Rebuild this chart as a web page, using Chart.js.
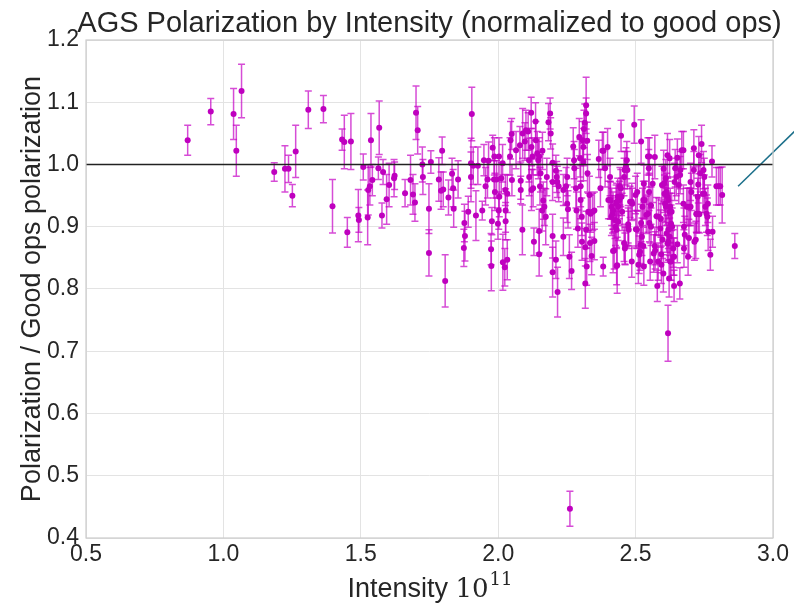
<!DOCTYPE html>
<html>
<head>
<meta charset="utf-8">
<script src="https://cdn.jsdelivr.net/npm/chart.js@4/dist/chart.umd.min.js"></script>
<style>
  html, body { margin: 0; padding: 0; background: #fff; }
</style>
</head>
<body>
<canvas id="polChart" width="794" height="603"></canvas>
<script>
// Beam intensity (units of 10^11)
const intensity = [
  0.870, 0.954, 1.037, 1.047, 1.066, 1.185, 1.224, 1.237, 1.251, 1.263,
  1.309, 1.364, 1.397, 1.432, 1.440, 1.451, 1.464, 1.491, 1.493, 1.509,
  1.525, 1.527, 1.533, 1.537, 1.542, 1.567, 1.564, 1.577, 1.581, 1.594,
  1.603, 1.621, 1.623, 1.661, 1.681, 1.690, 1.697, 1.701, 1.707, 1.724,
  1.726, 1.748, 1.748, 1.755, 1.784, 1.796, 1.792, 1.800, 1.807, 1.819,
  1.832, 1.836, 1.838, 1.854, 1.877, 1.879, 1.875, 1.891, 1.904, 1.901,
  1.901, 1.909, 1.919, 1.926, 1.948, 1.942, 1.954, 1.961, 1.965, 1.980,
  1.986, 1.985, 1.988, 1.994, 1.977, 1.974, 1.975, 1.999, 2.003, 2.004,
  2.002, 2.011, 2.016, 2.017, 2.024, 2.033, 2.027, 2.027, 2.026, 2.033,
  2.043, 2.045, 2.049, 2.050, 2.065, 2.079, 2.082, 2.082, 2.088, 2.089,
  2.097, 2.101, 2.109, 2.112, 2.113, 2.120, 2.121, 2.125, 2.121, 2.127,
  2.130, 2.136, 2.137, 2.142, 2.146, 2.149, 2.152, 2.149, 2.149, 2.154,
  2.161, 2.160, 2.164, 2.168, 2.173, 2.177, 2.183, 2.189, 2.191, 2.198,
  2.198, 2.198, 2.198, 2.210, 2.213, 2.215, 2.220, 2.210, 2.216, 2.237,
  2.237, 2.247, 2.251, 2.251, 2.254, 2.259, 2.261, 2.267, 2.273, 2.276,
  2.277, 2.283, 2.285, 2.290, 2.295, 2.298, 2.300, 2.300, 2.304, 2.305,
  2.307, 2.310, 2.310, 2.312, 2.315, 2.320, 2.320, 2.324, 2.325, 2.317,
  2.317, 2.320, 2.322, 2.328, 2.332, 2.334, 2.336, 2.340, 2.344, 2.350,
  2.350, 2.366, 2.372, 2.379, 2.382, 2.389, 2.398, 2.401, 2.383, 2.407,
  2.409, 2.413, 2.416, 2.418, 2.425, 2.427, 2.429, 2.433, 2.435, 2.437,
  2.441, 2.443, 2.447, 2.449, 2.451, 2.458, 2.458, 2.460, 2.461, 2.465,
  2.468, 2.470, 2.473, 2.475, 2.480, 2.486, 2.488, 2.495, 2.500, 2.501,
  2.506, 2.510, 2.513, 2.516, 2.518, 2.520, 2.520, 2.523, 2.525, 2.528,
  2.530, 2.533, 2.539, 2.545, 2.548, 2.549, 2.550, 2.550, 2.553, 2.556,
  2.562, 2.566, 2.570, 2.571, 2.576, 2.579, 2.582, 2.584, 2.590, 2.594,
  2.596, 2.598, 2.601, 2.602, 2.605, 2.607, 2.610, 2.613, 2.616, 2.617,
  2.618, 2.619, 2.622, 2.624, 2.626, 2.629, 2.631, 2.633, 2.637, 2.640,
  2.642, 2.644, 2.648, 2.652, 2.652, 2.657, 2.661, 2.663, 2.668, 2.674,
  2.674, 2.676, 2.676, 2.679, 2.686, 2.691, 2.694, 2.697, 2.700, 2.703,
  2.712, 2.712, 2.714, 2.719, 2.721, 2.722, 2.726, 2.728, 2.730, 2.732,
  2.735, 2.740, 2.745, 2.747, 2.750, 2.754, 2.758, 2.761, 2.763, 2.764,
  2.772, 2.778, 2.780, 2.794, 2.802, 2.808, 2.815, 2.861, 2.446, 2.407,
  2.486, 2.528, 2.431, 2.418, 2.545, 2.412, 2.437, 2.473, 2.431, 2.556,
  2.505, 2.462, 2.570, 2.422, 2.431, 2.530, 2.604, 2.613, 2.619, 2.610,
  2.624, 2.592, 2.629, 2.619, 2.624, 2.616, 2.637, 2.593, 2.626, 2.640,
  2.662, 2.691, 2.700, 2.728, 2.750
];

// Polarization / good ops polarization
const polRatio = [
  1.039, 1.085, 1.081, 1.022, 1.118, 0.988, 0.993, 0.993, 0.950, 1.021,
  1.088, 1.089, 0.933, 1.040, 1.036, 0.891, 1.037, 0.918, 0.911, 0.996,
  0.915, 0.959, 0.965, 1.039, 0.975, 1.059, 0.994, 0.918, 0.988, 0.944,
  0.967, 0.978, 0.982, 0.954, 0.975, 0.952, 0.939, 1.083, 1.055, 1.000,
  0.980, 0.929, 0.858, 1.004, 0.976, 1.022, 0.958, 0.960, 0.813, 0.947,
  0.985, 0.962, 0.929, 0.976, 0.906, 0.885, 0.866, 0.924, 1.081, 0.980,
  1.002, 0.998, 0.918, 0.998, 1.007, 0.926, 0.965, 0.976, 1.006, 1.027,
  1.013, 0.976, 0.956, 0.976, 0.909, 0.864, 0.837, 0.905, 1.013, 0.948,
  0.926, 0.978, 1.002, 0.843, 0.835, 0.847, 0.909, 0.926, 0.959, 0.953,
  1.013, 1.039, 1.049, 0.975, 1.023, 1.031, 0.974, 0.959, 0.895, 1.050,
  1.037, 1.055, 1.053, 1.007, 0.980, 1.083, 1.028, 1.013, 0.959, 0.962,
  0.876, 1.069, 1.039, 1.018, 1.007, 1.013, 0.965, 0.893, 0.856, 0.986,
  1.022, 0.926, 0.942, 0.932, 0.916, 0.980, 1.068, 1.082, 1.050, 1.003,
  0.972, 0.885, 0.827, 0.990, 0.980, 0.972, 0.965, 0.847, 0.795, 0.959,
  0.884, 0.965, 0.980, 0.937, 0.928, 0.852, 0.447, 0.829, 1.029, 1.007,
  0.994, 0.962, 0.926, 0.897, 1.044, 1.010, 0.965, 0.943, 0.916, 0.876,
  1.039, 1.004, 1.028, 1.057, 1.067, 1.095, 1.082, 1.038, 0.986, 0.867,
  0.809, 0.895, 0.836, 0.924, 0.951, 0.874, 0.921, 0.853, 0.924, 0.926,
  0.877, 1.009, 0.962, 1.022, 0.836, 0.994, 1.028, 0.943, 1.022, 0.980,
  0.942, 0.932, 0.920, 0.861, 0.911, 0.900, 0.937, 0.838, 0.948, 0.932,
  0.943, 0.965, 1.046, 0.948, 0.924, 0.874, 0.980, 0.991, 0.865, 0.997,
  1.007, 0.991, 0.904, 0.895, 0.940, 0.844, 0.937, 1.064, 0.951, 0.896,
  0.956, 0.839, 0.855, 0.860, 0.871, 1.037, 0.906, 0.884, 0.932, 0.869,
  0.969, 0.943, 0.919, 1.013, 0.994, 0.956, 1.013, 0.906, 0.844, 0.934,
  0.969, 0.857, 1.012, 0.862, 0.917, 0.805, 0.844, 0.916, 0.897, 0.839,
  0.967, 0.879, 0.825, 0.993, 0.953, 0.937, 0.978, 0.889, 1.015, 0.948,
  0.729, 0.876, 0.817, 1.010, 0.932, 0.844, 0.924, 0.900, 0.852, 0.805,
  0.972, 0.994, 0.980, 0.872, 1.011, 0.967, 0.809, 0.991, 1.023, 1.023,
  0.937, 0.900, 0.865, 0.887, 0.932, 0.852, 0.882, 0.932, 0.972, 0.956,
  1.026, 0.991, 0.876, 0.879, 0.921, 0.920, 0.948, 0.968, 1.015, 0.920,
  0.986, 1.033, 0.953, 0.991, 0.980, 0.932, 0.921, 0.916, 0.937, 0.892,
  0.855, 1.005, 0.892, 0.965, 0.965, 0.965, 0.951, 0.869, 0.962, 0.943,
  0.940, 0.943, 0.940, 0.926, 0.921, 0.916, 0.908, 0.900, 0.895, 0.900,
  0.895, 0.869, 0.869, 0.862, 0.837, 0.836, 0.970, 0.956, 0.943, 0.932,
  0.924, 0.913, 0.905, 0.895, 0.884, 0.873, 0.865, 0.856, 0.844, 0.852,
  0.983, 0.932, 0.932, 0.921, 0.953
];

// Error on the ratio (half length of each bar)
const polErr = [
  0.024, 0.021, 0.041, 0.041, 0.043, 0.015, 0.037, 0.022, 0.018, 0.042,
  0.030, 0.022, 0.043, 0.017, 0.043, 0.024, 0.045, 0.042, 0.020, 0.021,
  0.044, 0.040, 0.030, 0.043, 0.025, 0.043, 0.018, 0.020, 0.020, 0.040,
  0.035, 0.030, 0.022, 0.022, 0.040, 0.032, 0.030, 0.043, 0.038, 0.028,
  0.028, 0.040, 0.037, 0.018, 0.035, 0.022, 0.030, 0.028, 0.042, 0.028,
  0.025, 0.030, 0.030, 0.030, 0.030, 0.040, 0.030, 0.025, 0.043, 0.040,
  0.040, 0.030, 0.040, 0.030, 0.025, 0.015, 0.030, 0.030, 0.030, 0.020,
  0.030, 0.030, 0.030, 0.030, 0.022, 0.025, 0.040, 0.025, 0.030, 0.032,
  0.030, 0.025, 0.030, 0.045, 0.030, 0.032, 0.030, 0.035, 0.025, 0.030,
  0.030, 0.030, 0.025, 0.025, 0.030, 0.030, 0.030, 0.022, 0.040, 0.040,
  0.030, 0.032, 0.030, 0.035, 0.030, 0.025, 0.030, 0.030, 0.033, 0.030,
  0.022, 0.030, 0.030, 0.035, 0.030, 0.030, 0.030, 0.035, 0.035, 0.030,
  0.030, 0.033, 0.030, 0.030, 0.045, 0.030, 0.030, 0.025, 0.025, 0.030,
  0.030, 0.035, 0.040, 0.025, 0.025, 0.025, 0.025, 0.030, 0.040, 0.025,
  0.030, 0.030, 0.030, 0.030, 0.030, 0.035, 0.028, 0.030, 0.030, 0.030,
  0.030, 0.032, 0.030, 0.030, 0.030, 0.030, 0.033, 0.030, 0.030, 0.030,
  0.030, 0.030, 0.030, 0.030, 0.030, 0.045, 0.025, 0.030, 0.030, 0.030,
  0.040, 0.030, 0.030, 0.030, 0.030, 0.030, 0.030, 0.030, 0.030, 0.030,
  0.030, 0.030, 0.030, 0.030, 0.015, 0.030, 0.030, 0.030, 0.030, 0.030,
  0.030, 0.030, 0.030, 0.035, 0.030, 0.030, 0.030, 0.045, 0.030, 0.030,
  0.030, 0.030, 0.025, 0.030, 0.030, 0.030, 0.030, 0.030, 0.025, 0.030,
  0.030, 0.030, 0.030, 0.030, 0.025, 0.025, 0.025, 0.030, 0.030, 0.030,
  0.030, 0.030, 0.030, 0.030, 0.030, 0.035, 0.030, 0.030, 0.030, 0.030,
  0.030, 0.030, 0.030, 0.030, 0.030, 0.030, 0.030, 0.030, 0.030, 0.030,
  0.030, 0.030, 0.035, 0.030, 0.030, 0.025, 0.030, 0.030, 0.030, 0.030,
  0.030, 0.030, 0.030, 0.030, 0.030, 0.030, 0.030, 0.030, 0.035, 0.030,
  0.045, 0.030, 0.030, 0.030, 0.030, 0.030, 0.030, 0.030, 0.030, 0.025,
  0.030, 0.030, 0.030, 0.030, 0.030, 0.030, 0.025, 0.030, 0.030, 0.030,
  0.030, 0.030, 0.030, 0.030, 0.030, 0.030, 0.030, 0.030, 0.030, 0.030,
  0.030, 0.030, 0.030, 0.030, 0.030, 0.030, 0.030, 0.030, 0.030, 0.030,
  0.030, 0.030, 0.030, 0.030, 0.030, 0.030, 0.030, 0.030, 0.030, 0.030,
  0.025, 0.025, 0.025, 0.030, 0.030, 0.030, 0.045, 0.020, 0.030, 0.030,
  0.030, 0.030, 0.030, 0.030, 0.030, 0.030, 0.030, 0.030, 0.030, 0.030,
  0.030, 0.030, 0.030, 0.030, 0.030, 0.030, 0.030, 0.030, 0.030, 0.030,
  0.030, 0.030, 0.030, 0.030, 0.030, 0.030, 0.030, 0.030, 0.030, 0.030,
  0.030, 0.030, 0.030, 0.030, 0.030
];

// Reference line at ratio 1 and the fit line leaving the plot at the right
const refX = [0.5, 3.0];
const refY = [1.0, 1.0];
const fitX = [2.873, 3.25];
const fitY = [0.965, 1.127];

// Axis ticks
const xTicks = [0.5, 1.0, 1.5, 2.0, 2.5, 3.0];
const yTicks = [0.4, 0.5, 0.6, 0.7, 0.8, 0.9, 1.0, 1.1, 1.2];

const TEXT = '#262626';
const SANS = '"Liberation Sans", Arial, sans-serif';

const points = intensity.map((x, i) => ({ x: x, y: polRatio[i], err: polErr[i] }));

// error bars drawn under the points, through the chart scales
const errorBars = {
  id: 'errorBars',
  beforeDatasetsDraw(chart) {
    const ctx = chart.ctx;
    const xs = chart.scales.x, ys = chart.scales.y;
    ctx.save();
    ctx.strokeStyle = 'rgba(196, 0, 196, 0.7)';
    ctx.lineWidth = 1.5;
    points.forEach(p => {
      const px = xs.getPixelForValue(p.x);
      const top = ys.getPixelForValue(p.y + p.err);
      const bot = ys.getPixelForValue(p.y - p.err);
      ctx.beginPath();
      ctx.moveTo(px, top); ctx.lineTo(px, bot);
      ctx.moveTo(px - 3.5, top); ctx.lineTo(px + 3.5, top);
      ctx.moveTo(px - 3.5, bot); ctx.lineTo(px + 3.5, bot);
      ctx.stroke();
    });
    ctx.restore();
  }
};

// frame, title and axis labels
const decor = {
  id: 'decor',
  afterDraw(chart) {
    const ctx = chart.ctx;
    const a = chart.chartArea;
    const cx = (a.left + a.right) / 2;
    ctx.save();
    ctx.strokeStyle = '#cccccc';
    ctx.lineWidth = 1.2;
    ctx.strokeRect(a.left, a.top, a.right - a.left, a.bottom - a.top);

    ctx.fillStyle = TEXT;
    ctx.textAlign = 'center';
    ctx.textBaseline = 'alphabetic';
    ctx.font = '29px ' + SANS;
    ctx.fillText('AGS Polarization by Intensity (normalized to good ops)', cx, 32);

    // y label
    ctx.save();
    ctx.translate(33, (a.top + a.bottom) / 2);
    ctx.rotate(-Math.PI / 2);
    ctx.font = '27px ' + SANS;
    ctx.textBaseline = 'middle';
    ctx.fillText('Polarization / Good ops polarization', 0, 0);
    ctx.restore();

    // x label with math-style exponent
    const part1 = 'Intensity ';
    ctx.font = '27px ' + SANS;
    const w1 = ctx.measureText(part1).width;
    ctx.font = '26px "DejaVu Serif", serif';
    const w2 = ctx.measureText('10').width;
    ctx.font = '18px "DejaVu Serif", serif';
    const w3 = ctx.measureText('11').width;
    let x0 = cx - (w1 + w2 + w3) / 2;
    const base = 597;
    ctx.textAlign = 'left';
    ctx.font = '27px ' + SANS;
    ctx.fillText(part1, x0, base);
    ctx.font = '26px "DejaVu Serif", serif';
    ctx.fillText('10', x0 + w1, base);
    ctx.font = '18px "DejaVu Serif", serif';
    ctx.fillText('11', x0 + w1 + w2 + 1, base - 12);
    ctx.restore();
  }
};

new Chart(document.getElementById('polChart').getContext('2d'), {
  type: 'scatter',
  data: {
    datasets: [
      {
        label: 'ratio',
        data: points,
        pointRadius: 3,
        pointHoverRadius: 3,
        pointBackgroundColor: '#bf00bf',
        pointBorderWidth: 0,
        order: 3
      },
      {
        type: 'line',
        label: 'good ops',
        data: refX.map((x, i) => ({ x: x, y: refY[i] })),
        borderColor: '#222222',
        borderWidth: 1.5,
        pointRadius: 0,
        order: 1
      },
      {
        type: 'line',
        label: 'fit',
        data: fitX.map((x, i) => ({ x: x, y: fitY[i] })),
        borderColor: '#1b6f8a',
        borderWidth: 1.5,
        pointRadius: 0,
        clip: false,
        order: 2
      }
    ]
  },
  options: {
    responsive: false,
    animation: false,
    events: [],
    layout: { padding: { top: 40, right: 21, left: 0, bottom: 0 } },
    plugins: {
      legend: { display: false },
      tooltip: { enabled: false },
      title: { display: false }
    },
    scales: {
      x: {
        type: 'linear',
        min: 0.5,
        max: 3.0,
        afterBuildTicks: s => { s.ticks = xTicks.map(v => ({ value: v })); },
        afterFit: s => { s.height = 65; },
        grid: { color: '#e3e3e3', drawTicks: false },
        border: { display: false },
        ticks: {
          color: TEXT,
          padding: 3,
          font: { family: SANS, size: 23 },
          callback: v => v.toFixed(1)
        }
      },
      y: {
        type: 'linear',
        min: 0.4,
        max: 1.2,
        afterBuildTicks: s => { s.ticks = yTicks.map(v => ({ value: v })); },
        afterFit: s => { s.width = 86; },
        grid: { color: '#e3e3e3', drawTicks: false },
        border: { display: false },
        ticks: {
          color: TEXT,
          padding: 7,
          font: { family: SANS, size: 23 },
          callback: v => v.toFixed(1)
        }
      }
    }
  },
  plugins: [errorBars, decor]
});
</script>
</body>
</html>
